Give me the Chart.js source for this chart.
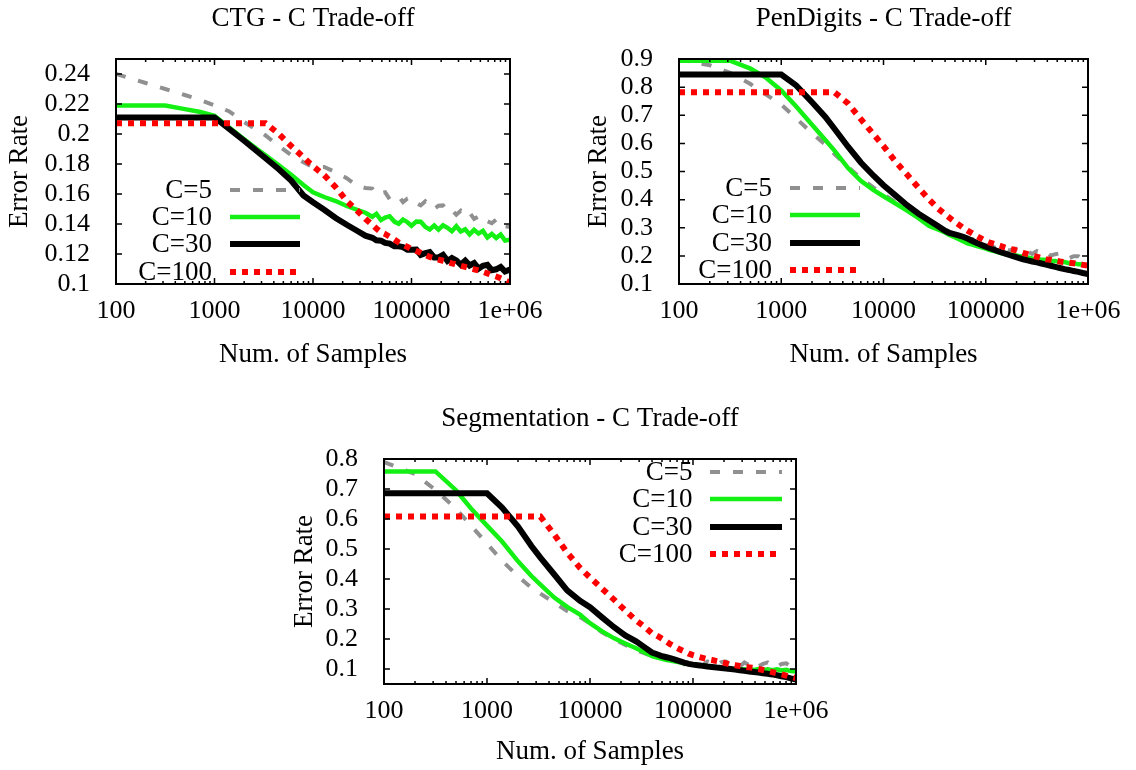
<!DOCTYPE html>
<html>
<head>
<meta charset="utf-8">
<script src="https://cdn.jsdelivr.net/npm/chart.js@4.4.1/dist/chart.umd.min.js"></script>
<style>
  body { margin: 0; background: #fff; width: 1136px; height: 770px; position: relative; overflow: hidden; }
  canvas { position: absolute; }
</style>
</head>
<body>
<canvas id="ctg" width="568" height="385" style="left:0;top:0"></canvas>
<canvas id="pen" width="568" height="385" style="left:568px;top:0"></canvas>
<canvas id="seg" width="568" height="370" style="left:272px;top:400px"></canvas>
<script>
// number of samples, shared by every curve
const sampleSizes = [100, 200, 316, 500, 700, 1000, 1400, 2000, 2700, 3300, 4500, 6000, 8000, 10000, 13000, 17000, 22000, 28000, 34000,
  40000, 44000, 49000, 54000, 60000, 67000, 74000, 82000, 91000, 100000, 112000, 124000, 138000, 153000, 170000, 188000,
  209000, 232000, 257000, 285000, 316000, 351000, 389000, 432000, 479000, 531000, 589000, 653000, 724000, 804000, 891000, 1000000];

const seriesLabels = ['C=5', 'C=10', 'C=30', 'C=100'];
const xTickValues = [100, 1000, 10000, 100000, 1000000];
const xTickLabels = ['100', '1000', '10000', '100000', '1e+06'];

// CTG error rates
const ctgC5 = [0.240, 0.234, 0.230, 0.226, 0.223, 0.219, 0.2152, 0.208, 0.2027, 0.199, 0.192, 0.186, 0.1812, 0.178, 0.178, 0.1745, 0.1705, 0.1655, 0.1640,
  0.1636, 0.1598, 0.1606, 0.1612, 0.1566, 0.1572, 0.1586, 0.1546, 0.1570, 0.1575, 0.1540, 0.1524, 0.1552, 0.1520, 0.1500, 0.1522,
  0.1524, 0.1483, 0.1492, 0.1462, 0.1488, 0.1457, 0.1476, 0.1434, 0.1449, 0.1456, 0.1418, 0.1405, 0.1430, 0.1428, 0.1386, 0.1380];
const ctgC10 = [0.219, 0.219, 0.219, 0.2166, 0.2148, 0.2122, 0.2045, 0.1965, 0.190, 0.1858, 0.1792, 0.1728, 0.166, 0.1612, 0.158, 0.1553, 0.152, 0.1495, 0.1475,
  0.1448, 0.1468, 0.1426, 0.1443, 0.1452, 0.1416, 0.1402, 0.1430, 0.1412, 0.1388, 0.1416, 0.1415, 0.1381, 0.1364, 0.1390, 0.1363,
  0.1392, 0.1375, 0.1352, 0.1385, 0.1350, 0.1365, 0.1331, 0.1361, 0.1336, 0.1354, 0.1310, 0.1334, 0.1307, 0.1330, 0.1290, 0.1295];
const ctgC30 = [0.211, 0.211, 0.211, 0.211, 0.211, 0.211, 0.2035, 0.1955, 0.1885, 0.1838, 0.1765, 0.169, 0.159, 0.1545, 0.1495, 0.144, 0.1395, 0.1355, 0.1322,
  0.1308, 0.1291, 0.1289, 0.1274, 0.1269, 0.1251, 0.1251, 0.1246, 0.1229, 0.1229, 0.1230, 0.1194, 0.1206, 0.1213, 0.1177, 0.1177,
  0.1194, 0.1154, 0.1173, 0.1157, 0.1129, 0.1156, 0.1124, 0.1140, 0.1102, 0.1121, 0.1128, 0.1092, 0.1098, 0.1114, 0.1083, 0.1096];
const ctgC100 = [0.2072, 0.2072, 0.2072, 0.2072, 0.2072, 0.2072, 0.2072, 0.2072, 0.2072, 0.2072, 0.2000, 0.192, 0.1845, 0.1785, 0.1725, 0.1645, 0.1553, 0.149, 0.1435,
  0.1395, 0.137, 0.1345, 0.1333, 0.1315, 0.1296, 0.1277, 0.1262, 0.1247, 0.1232, 0.122, 0.1208, 0.1193, 0.118, 0.1171, 0.1163,
  0.1155, 0.1147, 0.1138, 0.113, 0.1122, 0.1114, 0.1106, 0.1098, 0.109, 0.1081, 0.1071, 0.106, 0.105, 0.1038, 0.1025, 0.1008];

// PenDigits error rates
const penC5 = [0.898, 0.878, 0.851, 0.811, 0.775, 0.738, 0.689, 0.636, 0.596, 0.563, 0.516, 0.476, 0.443, 0.419, 0.392, 0.365, 0.339, 0.314, 0.300,
  0.294, 0.283, 0.280, 0.279, 0.264, 0.260, 0.260, 0.246, 0.248, 0.249, 0.236, 0.229, 0.236, 0.226, 0.219, 0.225,
  0.226, 0.214, 0.216, 0.207, 0.217, 0.208, 0.214, 0.201, 0.206, 0.209, 0.196, 0.192, 0.199, 0.199, 0.187, 0.188];
const penC10 = [0.894, 0.894, 0.894, 0.866, 0.835, 0.788, 0.731, 0.666, 0.612, 0.575, 0.512, 0.467, 0.434, 0.412, 0.387, 0.361, 0.334, 0.306, 0.294,
  0.283, 0.274, 0.267, 0.260, 0.252, 0.244, 0.240, 0.235, 0.230, 0.226, 0.220, 0.216, 0.211, 0.207, 0.206, 0.203,
  0.200, 0.197, 0.194, 0.191, 0.189, 0.186, 0.186, 0.182, 0.182, 0.178, 0.178, 0.174, 0.174, 0.170, 0.169, 0.165];
const penC30 = [0.845, 0.845, 0.845, 0.845, 0.845, 0.845, 0.806, 0.746, 0.694, 0.653, 0.588, 0.532, 0.485, 0.451, 0.416, 0.380, 0.350, 0.326, 0.306,
  0.289, 0.282, 0.277, 0.273, 0.268, 0.261, 0.253, 0.246, 0.239, 0.233, 0.226, 0.220, 0.214, 0.209, 0.203, 0.198,
  0.193, 0.188, 0.184, 0.180, 0.177, 0.173, 0.169, 0.165, 0.161, 0.157, 0.153, 0.150, 0.146, 0.143, 0.139, 0.135];
const penC100 = [0.782, 0.782, 0.782, 0.782, 0.782, 0.782, 0.782, 0.782, 0.782, 0.782, 0.742, 0.686, 0.632, 0.590, 0.537, 0.489, 0.442, 0.400, 0.369,
  0.348, 0.336, 0.323, 0.312, 0.300, 0.289, 0.280, 0.270, 0.261, 0.253, 0.246, 0.241, 0.236, 0.230, 0.225, 0.222,
  0.217, 0.211, 0.206, 0.201, 0.197, 0.192, 0.188, 0.186, 0.183, 0.180, 0.178, 0.176, 0.174, 0.171, 0.168, 0.165];

// Segmentation error rates
const segC5 = [0.790, 0.750, 0.697, 0.634, 0.578, 0.518, 0.461, 0.409, 0.371, 0.351, 0.321, 0.293, 0.273, 0.252, 0.223, 0.200, 0.180, 0.163, 0.152,
  0.144, 0.133, 0.137, 0.138, 0.122, 0.123, 0.130, 0.116, 0.123, 0.129, 0.116, 0.113, 0.125, 0.117, 0.112, 0.123,
  0.125, 0.113, 0.119, 0.109, 0.122, 0.113, 0.122, 0.109, 0.117, 0.122, 0.109, 0.107, 0.117, 0.119, 0.108, 0.109];
const segC10 = [0.7585, 0.7585, 0.7585, 0.696, 0.635, 0.578, 0.525, 0.459, 0.410, 0.381, 0.338, 0.307, 0.281, 0.253, 0.226, 0.203, 0.185, 0.169, 0.155,
  0.143, 0.139, 0.1345, 0.131, 0.128, 0.125, 0.122, 0.119, 0.117, 0.1146, 0.112, 0.1105, 0.109, 0.107, 0.1055, 0.104,
  0.1025, 0.101, 0.100, 0.099, 0.098, 0.100, 0.097, 0.100, 0.096, 0.099, 0.096, 0.099, 0.095, 0.097, 0.093, 0.092];
const segC30 = [0.6857, 0.6857, 0.6857, 0.6857, 0.6857, 0.6857, 0.638, 0.575, 0.510, 0.471, 0.415, 0.362, 0.327, 0.306, 0.273, 0.240, 0.212, 0.192, 0.172,
  0.155, 0.150, 0.144, 0.140, 0.136, 0.131, 0.126, 0.121, 0.117, 0.1146, 0.1125, 0.1105, 0.1085, 0.107, 0.105, 0.1035,
  0.102, 0.100, 0.098, 0.096, 0.094, 0.092, 0.090, 0.088, 0.086, 0.084, 0.082, 0.079, 0.076, 0.073, 0.069, 0.065];
const segC100 = [0.608, 0.608, 0.608, 0.608, 0.608, 0.608, 0.608, 0.608, 0.608, 0.608, 0.548, 0.488, 0.437, 0.405, 0.369, 0.332, 0.295, 0.262, 0.240,
  0.219, 0.212, 0.203, 0.194, 0.183, 0.174, 0.166, 0.159, 0.151, 0.146, 0.141, 0.137, 0.133, 0.130, 0.1262, 0.123,
  0.119, 0.1152, 0.1127, 0.110, 0.108, 0.1055, 0.1032, 0.100, 0.0965, 0.093, 0.0895, 0.086, 0.082, 0.078, 0.074, 0.070];

const ctgYTicks = [0.1, 0.12, 0.14, 0.16, 0.18, 0.2, 0.22, 0.24];
const penYTicks = [0.1, 0.2, 0.3, 0.4, 0.5, 0.6, 0.7, 0.8, 0.9];
const segYTicks = [0.1, 0.2, 0.3, 0.4, 0.5, 0.6, 0.7, 0.8];

// gnuplot-like line types: grey dashes, green, thick black, red dots
const lineStyles = [
  { color: '#909090', width: 4, dash: [10, 13] },
  { color: '#14f014', width: 4.5, dash: [] },
  { color: '#000000', width: 6, dash: [] },
  { color: '#ff0000', width: 6, dash: [6, 6] }
];

Chart.defaults.font.family = "'Liberation Serif', 'Times New Roman', serif";
Chart.defaults.color = '#000';

// border box plus inward tick marks on all four sides
const frameTicks = {
  id: 'frameTicks',
  afterDatasetsDraw(chart) {
    const { ctx, chartArea: a, scales: { x, y } } = chart;
    ctx.save();
    ctx.strokeStyle = '#000';
    ctx.lineWidth = 1.5;
    ctx.setLineDash([]);
    ctx.beginPath();
    y.ticks.forEach(t => {
      const py = y.getPixelForValue(t.value);
      ctx.moveTo(a.left, py); ctx.lineTo(a.left + 6, py);
      ctx.moveTo(a.right, py); ctx.lineTo(a.right - 6, py);
    });
    x.ticks.forEach(t => {
      const px = x.getPixelForValue(t.value);
      ctx.moveTo(px, a.bottom); ctx.lineTo(px, a.bottom - 6);
      ctx.moveTo(px, a.top); ctx.lineTo(px, a.top + 6);
      if (t.value >= x.max) return;
      for (let m = 2; m < 10; m++) {
        const mx = x.getPixelForValue(t.value * m);
        ctx.moveTo(mx, a.bottom); ctx.lineTo(mx, a.bottom - 3);
        ctx.moveTo(mx, a.top); ctx.lineTo(mx, a.top + 3);
      }
    });
    ctx.stroke();
    ctx.lineWidth = 2;
    ctx.strokeRect(a.left, a.top, a.width, a.height);
    ctx.restore();
  }
};

// key: right-justified label followed by a line sample
const sampleKey = {
  id: 'sampleKey',
  afterDatasetsDraw(chart, args, opts) {
    const { ctx, chartArea: a } = chart;
    const base = opts.side === 'right' ? a.right : a.left;
    ctx.save();
    ctx.font = "27px 'Liberation Serif'";
    ctx.textAlign = 'right';
    ctx.textBaseline = 'middle';
    chart.data.datasets.forEach((ds, i) => {
      const yy = a.top + opts.rows[i];
      ctx.fillStyle = '#000';
      ctx.fillText(ds.label, base + opts.textX, yy + 1);
      ctx.strokeStyle = ds.borderColor;
      ctx.lineWidth = ds.borderWidth;
      ctx.lineCap = 'butt';
      ctx.setLineDash(ds.borderDash);
      ctx.beginPath();
      ctx.moveTo(base + opts.lineFrom, yy);
      ctx.lineTo(base + opts.lineTo, yy);
      ctx.stroke();
    });
    ctx.restore();
  }
};

function makeChart(id, c) {
  const canvas = document.getElementById(id);
  return new Chart(canvas, {
    type: 'line',
    data: {
      datasets: c.series.map((vals, i) => ({
        label: seriesLabels[i],
        data: sampleSizes.map((n, k) => ({ x: n, y: vals[k] })),
        borderColor: lineStyles[i].color,
        borderWidth: lineStyles[i].width,
        borderDash: lineStyles[i].dash,
        borderCapStyle: 'butt',
        pointRadius: 0,
        tension: 0,
        fill: false,
        clip: 0,
        order: 4 - i
      }))
    },
    options: {
      responsive: false,
      animation: false,
      devicePixelRatio: 1,
      layout: { padding: { left: 0, right: canvas.width - c.frameRight, top: 0, bottom: 0 } },
      plugins: {
        legend: { display: false },
        tooltip: { enabled: false },
        title: {
          display: true, text: c.title, fullSize: false, color: '#000',
          font: { size: 27, weight: 'normal' }, padding: { top: 3, bottom: 23.6 }
        },
        sampleKey: c.key
      },
      scales: {
        x: {
          type: 'logarithmic', min: 100, max: 1000000,
          grid: { display: false }, border: { display: false },
          afterBuildTicks: s => { s.ticks = xTickValues.map(v => ({ value: v })); },
          afterFit: s => { s.height = canvas.height - 284; },
          ticks: {
            autoSkip: false, maxRotation: 0, padding: 4, font: { size: 26 },
            callback: v => xTickLabels[xTickValues.indexOf(v)]
          },
          title: { display: true, text: 'Num. of Samples', font: { size: 27 }, padding: { top: 0, bottom: c.xTitlePad } }
        },
        y: {
          min: c.yMin, max: c.yMax,
          grid: { display: false }, border: { display: false },
          afterBuildTicks: s => { s.ticks = c.yTicks.map(v => ({ value: v })); },
          afterFit: s => { s.width = c.frameLeft; },
          ticks: { autoSkip: false, padding: 18, font: { size: 26 }, callback: v => String(v) },
          title: { display: true, text: 'Error Rate', font: { size: 27 }, padding: { top: c.yTitlePad, bottom: 0 } }
        }
      }
    },
    plugins: [frameTicks, sampleKey]
  });
}

makeChart('ctg', {
  title: 'CTG - C Trade-off', series: [ctgC5, ctgC10, ctgC30, ctgC100],
  yTicks: ctgYTicks, yMin: 0.1, yMax: 0.25,
  frameLeft: 116, frameRight: 510, yTitlePad: 3.4, xTitlePad: 13.8,
  key: { side: 'left', textX: 96, lineFrom: 114, lineTo: 184, rows: [131, 158, 185, 213] }
});
makeChart('pen', {
  title: 'PenDigits - C Trade-off', series: [penC5, penC10, penC30, penC100],
  yTicks: penYTicks, yMin: 0.1, yMax: 0.9,
  frameLeft: 111, frameRight: 520, yTitlePad: 14.8, xTitlePad: 13.8,
  key: { side: 'left', textX: 93, lineFrom: 111, lineTo: 181, rows: [129, 156, 184, 211] }
});
makeChart('seg', {
  title: 'Segmentation - C Trade-off', series: [segC5, segC10, segC30, segC100],
  yTicks: segYTicks, yMin: 0.05, yMax: 0.8,
  frameLeft: 112, frameRight: 524, yTitlePad: 16.8, xTitlePad: 1.8,
  key: { side: 'right', textX: -103.5, lineFrom: -86, lineTo: -14, rows: [13, 40, 68, 95] }
});
</script>
</body>
</html>
